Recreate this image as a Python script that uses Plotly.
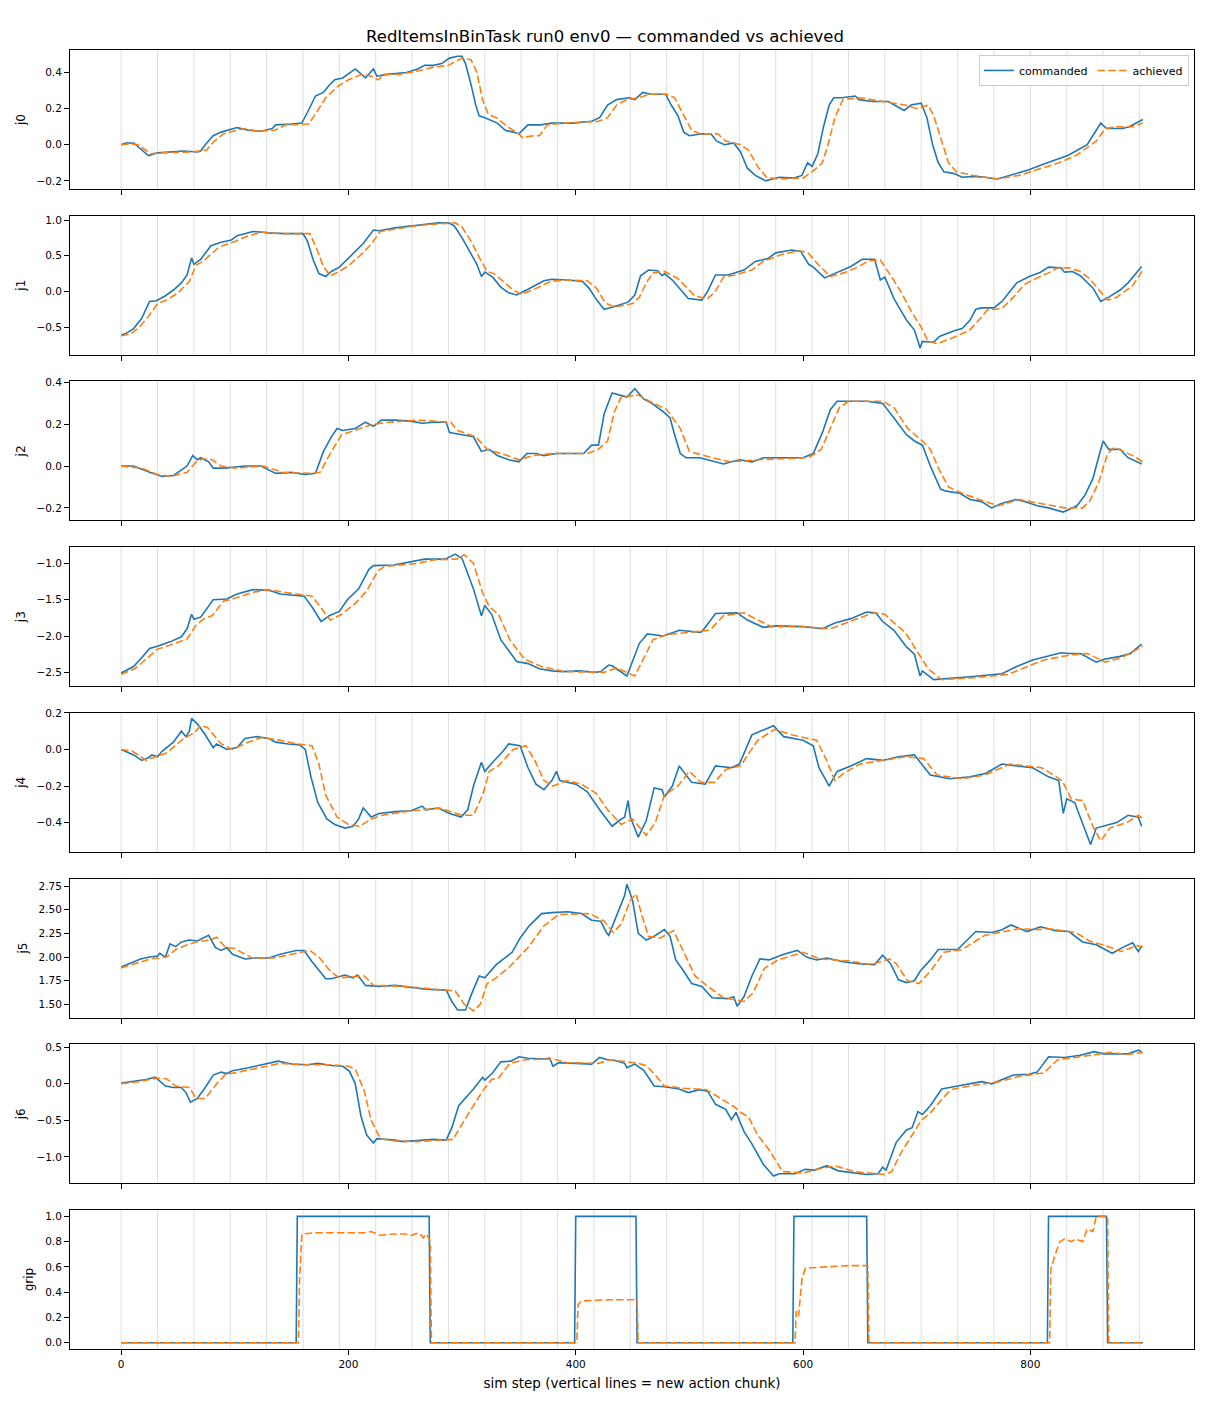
import plotly.graph_objects as go
from plotly.subplots import make_subplots

TITLE = "RedItemsInBinTask run0 env0 \u2014 commanded vs achieved"
X_LABEL = "sim step (vertical lines = new action chunk)"
JOINT_NAMES = ["j0", "j1", "j2", "j3", "j4", "j5", "j6", "grip"]
X_TICKS = [0, 200, 400, 600, 800]
CHUNK_STARTS = [0, 32, 64, 96, 128, 160, 192, 224, 256, 288, 320, 352, 384, 416, 448,
                480, 512, 544, 576, 608, 640, 672, 704, 736, 768, 800, 832, 864, 896]

# (sim step, value) pairs
j0_cmd = [(0,0.0),(4,0.01),(11,0.01),(18,-0.03),(24,-0.06),(32,-0.045),(43,-0.04),(55,-0.035),(67,-0.04),(70,-0.035),(74,0.0),(81,0.05),(88,0.07),(102,0.095),(112,0.08),(123,0.075),(133,0.09),(136,0.11),(150,0.115),(159,0.12),(164,0.18),(171,0.27),(178,0.29),(183,0.33),(188,0.36),(195,0.37),(206,0.42),(211,0.39),(215,0.37),(222,0.42),(225,0.38),(234,0.39),(251,0.40),(261,0.42),(267,0.44),(275,0.44),(282,0.45),(289,0.48),(296,0.49),(300,0.49),(303,0.45),(308,0.33),(312,0.22),(315,0.16),(320,0.15),(331,0.12),(338,0.08),(345,0.07),(350,0.06),(353,0.08),(358,0.11),(369,0.11),(379,0.12),(397,0.12),(414,0.13),(421,0.15),(428,0.22),(436,0.25),(447,0.26),(452,0.25),(459,0.29),(466,0.28),(472,0.28),(479,0.28),(484,0.22),(490,0.16),(495,0.07),(500,0.05),(510,0.06),(519,0.06),(524,0.02),(531,0.0),(539,0.01),(545,-0.04),(551,-0.13),(558,-0.17),(567,-0.2),(579,-0.18),(592,-0.185),(599,-0.17),(604,-0.1),(608,-0.12),(613,-0.05),(618,0.1),(623,0.22),(627,0.26),(634,0.26),(646,0.27),(649,0.25),(661,0.24),(675,0.24),(689,0.19),(695,0.22),(704,0.23),(709,0.15),(714,0.0),(719,-0.1),(724,-0.15),(733,-0.16),(740,-0.18),(750,-0.175),(760,-0.18),(771,-0.19),(781,-0.17),(798,-0.14),(815,-0.1),(833,-0.06),(850,0.0),(862,0.12),(867,0.09),(881,0.09),(887,0.10),(899,0.14)]
j0_ach = [(0,0.0),(8,0.005),(15,0.0),(26,-0.05),(35,-0.045),(50,-0.04),(62,-0.04),(75,-0.03),(82,0.02),(90,0.06),(108,0.09),(120,0.075),(135,0.08),(145,0.11),(165,0.115),(172,0.18),(180,0.26),(190,0.32),(200,0.36),(212,0.39),(220,0.38),(226,0.36),(232,0.39),(245,0.39),(262,0.41),(275,0.43),(288,0.44),(300,0.48),(308,0.47),(313,0.4),(318,0.25),(323,0.17),(330,0.15),(340,0.1),(350,0.06),(353,0.04),(363,0.05),(368,0.05),(375,0.11),(390,0.12),(420,0.13),(428,0.15),(436,0.22),(445,0.25),(455,0.26),(465,0.28),(480,0.28),(487,0.26),(494,0.18),(502,0.08),(510,0.06),(525,0.06),(532,0.02),(545,0.0),(552,-0.03),(560,-0.12),(568,-0.18),(578,-0.19),(600,-0.185),(610,-0.14),(617,-0.1),(622,0.0),(628,0.15),(635,0.25),(650,0.26),(670,0.24),(690,0.22),(700,0.2),(710,0.22),(715,0.16),(722,0.02),(728,-0.1),(735,-0.15),(750,-0.17),(770,-0.19),(790,-0.17),(805,-0.14),(825,-0.1),(840,-0.06),(858,0.02),(866,0.09),(875,0.1),(890,0.1),(899,0.12)]

j1_cmd = [(0,-0.61),(4,-0.59),(11,-0.52),(18,-0.38),(25,-0.14),(31,-0.13),(39,-0.06),(46,0.02),(53,0.12),(58,0.23),(62,0.47),(64,0.38),(70,0.45),(79,0.64),(88,0.69),(97,0.72),(102,0.78),(116,0.84),(130,0.82),(143,0.81),(160,0.81),(164,0.7),(169,0.44),(174,0.25),(180,0.21),(185,0.28),(192,0.34),(199,0.45),(206,0.56),(213,0.67),(222,0.86),(227,0.85),(241,0.89),(255,0.92),(268,0.94),(279,0.96),(288,0.96),(293,0.92),(300,0.75),(307,0.55),(313,0.38),(317,0.21),(320,0.27),(327,0.2),(334,0.06),(341,-0.02),(348,-0.05),(358,0.03),(372,0.15),(379,0.17),(393,0.16),(406,0.14),(412,0.04),(418,-0.11),(425,-0.25),(432,-0.22),(446,-0.15),(452,-0.05),(457,0.22),(464,0.3),(472,0.29),(476,0.22),(478,0.25),(485,0.16),(499,-0.1),(511,-0.12),(516,0.0),(523,0.23),(534,0.23),(548,0.3),(558,0.42),(569,0.46),(576,0.54),(590,0.58),(598,0.56),(605,0.38),(609,0.34),(619,0.19),(631,0.27),(642,0.35),(652,0.45),(663,0.45),(668,0.16),(672,0.2),(680,-0.1),(691,-0.4),(698,-0.54),(703,-0.79),(705,-0.7),(715,-0.71),(720,-0.63),(726,-0.59),(733,-0.55),(740,-0.52),(747,-0.4),(752,-0.25),(757,-0.23),(768,-0.23),(775,-0.14),(782,0.0),(788,0.12),(799,0.21),(809,0.27),(816,0.34),(827,0.33),(830,0.27),(837,0.28),(844,0.22),(855,0.05),(862,-0.14),(869,-0.08),(879,0.02),(886,0.12),(898,0.35)]
j1_ach = [(0,-0.62),(8,-0.6),(16,-0.5),(24,-0.35),(32,-0.17),(40,-0.12),(50,-0.02),(60,0.14),(66,0.37),(72,0.42),(86,0.62),(100,0.7),(112,0.78),(124,0.83),(140,0.81),(166,0.81),(172,0.6),(178,0.35),(184,0.22),(192,0.28),(200,0.36),(210,0.5),(220,0.66),(228,0.84),(240,0.87),(260,0.92),(282,0.95),(294,0.96),(300,0.9),(308,0.7),(316,0.45),(322,0.28),(328,0.25),(336,0.14),(345,0.02),(352,-0.04),(362,0.02),(378,0.14),(390,0.16),(410,0.15),(418,0.05),(426,-0.16),(434,-0.22),(450,-0.17),(456,-0.08),(462,0.12),(468,0.26),(478,0.28),(490,0.18),(504,-0.05),(515,-0.11),(522,-0.02),(530,0.2),(540,0.23),(555,0.3),(565,0.42),(582,0.52),(596,0.57),(604,0.55),(612,0.4),(624,0.21),(636,0.26),(648,0.34),(658,0.43),(668,0.44),(676,0.25),(686,0.0),(696,-0.3),(704,-0.5),(710,-0.7),(718,-0.73),(730,-0.66),(746,-0.55),(756,-0.38),(762,-0.26),(775,-0.24),(785,-0.08),(795,0.1),(806,0.19),(816,0.26),(824,0.33),(834,0.33),(844,0.28),(852,0.18),(862,0.0),(868,-0.12),(876,-0.08),(890,0.08),(899,0.3)]

j2_cmd = [(0,0.0),(11,0.0),(25,-0.03),(36,-0.05),(46,-0.045),(53,-0.02),(58,0.0),(63,0.05),(67,0.03),(70,0.04),(77,0.02),(81,-0.01),(91,-0.01),(109,0.0),(123,0.0),(136,-0.035),(150,-0.03),(162,-0.04),(171,-0.035),(178,0.07),(185,0.14),(190,0.18),(195,0.17),(206,0.18),(215,0.21),(222,0.19),(229,0.22),(241,0.22),(255,0.215),(265,0.205),(275,0.21),(286,0.21),(289,0.16),(300,0.15),(310,0.14),(317,0.07),(324,0.08),(331,0.05),(341,0.03),(350,0.02),(357,0.06),(365,0.06),(372,0.05),(383,0.06),(396,0.06),(407,0.06),(414,0.1),(420,0.1),(425,0.25),(432,0.35),(445,0.33),(452,0.37),(460,0.32),(467,0.3),(477,0.26),(483,0.23),(487,0.15),(492,0.06),(497,0.04),(509,0.04),(516,0.03),(530,0.01),(544,0.03),(555,0.02),(565,0.04),(579,0.04),(600,0.04),(609,0.06),(617,0.16),(624,0.27),(630,0.31),(656,0.31),(670,0.3),(680,0.23),(691,0.15),(698,0.12),(705,0.1),(712,0.0),(721,-0.11),(726,-0.12),(738,-0.13),(747,-0.16),(757,-0.17),(766,-0.2),(774,-0.18),(787,-0.16),(795,-0.17),(806,-0.19),(816,-0.2),(829,-0.22),(841,-0.19),(848,-0.14),(855,-0.06),(858,0.0),(864,0.12),(869,0.08),(879,0.08),(886,0.04),(898,0.01)]
j2_ach = [(0,0.0),(18,-0.01),(32,-0.04),(44,-0.05),(58,-0.03),(66,0.02),(72,0.035),(80,0.03),(88,0.0),(100,-0.01),(125,0.0),(142,-0.03),(168,-0.035),(175,-0.03),(185,0.07),(194,0.15),(205,0.17),(222,0.2),(236,0.21),(260,0.22),(290,0.21),(296,0.17),(312,0.14),(322,0.08),(340,0.05),(350,0.03),(362,0.05),(380,0.06),(410,0.06),(420,0.08),(428,0.12),(434,0.26),(440,0.33),(455,0.34),(465,0.31),(480,0.27),(492,0.18),(500,0.07),(520,0.04),(536,0.02),(560,0.03),(605,0.04),(616,0.08),(624,0.18),(632,0.28),(640,0.31),(670,0.31),(680,0.28),(692,0.18),(705,0.12),(712,0.08),(720,-0.02),(728,-0.1),(740,-0.13),(760,-0.17),(772,-0.19),(790,-0.16),(810,-0.18),(830,-0.2),(846,-0.2),(852,-0.17),(860,-0.08),(868,0.06),(874,0.09),(890,0.05),(899,0.02)]

j3_cmd = [(0,-2.51),(11,-2.42),(18,-2.3),(25,-2.17),(32,-2.14),(43,-2.08),(53,-2.01),(58,-1.9),(62,-1.7),(64,-1.77),(70,-1.74),(81,-1.5),(93,-1.49),(102,-1.42),(116,-1.36),(130,-1.37),(140,-1.42),(161,-1.45),(168,-1.6),(176,-1.8),(183,-1.72),(192,-1.66),(199,-1.5),(209,-1.35),(218,-1.08),(222,-1.03),(240,-1.02),(253,-0.98),(267,-0.94),(285,-0.94),(294,-0.87),(300,-0.93),(310,-1.35),(317,-1.72),(320,-1.58),(326,-1.7),(334,-2.05),(348,-2.35),(358,-2.38),(368,-2.45),(379,-2.48),(389,-2.49),(403,-2.48),(417,-2.5),(422,-2.49),(429,-2.4),(432,-2.41),(445,-2.55),(456,-2.1),(463,-1.97),(477,-2.0),(491,-1.92),(510,-1.95),(513,-1.9),(523,-1.69),(542,-1.68),(551,-1.78),(565,-1.88),(576,-1.86),(600,-1.87),(617,-1.9),(628,-1.82),(642,-1.76),(656,-1.67),(664,-1.68),(670,-1.8),(680,-1.92),(691,-2.15),(698,-2.25),(703,-2.55),(705,-2.48),(715,-2.6),(733,-2.58),(747,-2.56),(775,-2.52),(788,-2.42),(802,-2.33),(816,-2.27),(827,-2.23),(834,-2.24),(844,-2.24),(858,-2.36),(865,-2.32),(879,-2.28),(888,-2.24),(898,-2.11)]
j3_ach = [(0,-2.53),(12,-2.45),(22,-2.32),(32,-2.18),(42,-2.13),(58,-2.04),(66,-1.85),(72,-1.77),(80,-1.72),(90,-1.52),(100,-1.48),(115,-1.4),(130,-1.36),(145,-1.4),(168,-1.45),(176,-1.62),(184,-1.78),(194,-1.7),(206,-1.55),(216,-1.38),(226,-1.1),(232,-1.04),(260,-1.0),(275,-0.95),(295,-0.94),(302,-0.88),(310,-1.0),(318,-1.4),(324,-1.6),(332,-1.7),(342,-2.05),(355,-2.32),(370,-2.42),(390,-2.49),(425,-2.5),(436,-2.44),(452,-2.55),(460,-2.3),(468,-2.05),(480,-1.98),(498,-1.95),(518,-1.92),(530,-1.72),(548,-1.68),(558,-1.76),(572,-1.87),(600,-1.87),(624,-1.9),(636,-1.83),(662,-1.68),(672,-1.7),(680,-1.82),(690,-1.95),(700,-2.2),(710,-2.45),(722,-2.6),(745,-2.58),(780,-2.53),(795,-2.44),(812,-2.33),(835,-2.26),(850,-2.24),(866,-2.36),(880,-2.3),(899,-2.14)]

j4_cmd = [(0,0.0),(4,-0.01),(11,-0.03),(18,-0.06),(24,-0.045),(27,-0.03),(32,-0.04),(36,-0.01),(46,0.04),(53,0.1),(57,0.07),(60,0.1),(62,0.17),(67,0.14),(74,0.08),(81,0.01),(84,0.03),(93,0.0),(102,0.01),(109,0.06),(119,0.07),(130,0.06),(136,0.04),(147,0.03),(157,0.025),(162,0.0),(167,-0.15),(173,-0.29),(181,-0.38),(188,-0.41),(197,-0.43),(204,-0.42),(209,-0.38),(213,-0.32),(220,-0.37),(227,-0.35),(241,-0.34),(255,-0.335),(265,-0.31),(268,-0.33),(279,-0.32),(289,-0.35),(299,-0.37),(305,-0.33),(310,-0.2),(317,-0.07),(320,-0.12),(327,-0.07),(336,-0.01),(341,0.03),(351,0.02),(358,-0.1),(365,-0.19),(372,-0.22),(379,-0.17),(383,-0.12),(386,-0.17),(400,-0.19),(410,-0.23),(421,-0.33),(432,-0.42),(438,-0.39),(443,-0.37),(446,-0.28),(448,-0.37),(455,-0.48),(462,-0.39),(469,-0.21),(476,-0.22),(478,-0.26),(485,-0.2),(491,-0.09),(497,-0.14),(502,-0.18),(514,-0.19),(523,-0.09),(537,-0.1),(544,-0.08),(555,0.08),(562,0.1),(574,0.13),(583,0.07),(600,0.05),(609,0.02),(614,-0.1),(623,-0.2),(630,-0.12),(642,-0.09),(656,-0.05),(670,-0.06),(684,-0.04),(698,-0.03),(712,-0.14),(729,-0.16),(747,-0.15),(761,-0.13),(775,-0.08),(788,-0.09),(802,-0.1),(816,-0.15),(825,-0.17),(829,-0.35),(832,-0.27),(839,-0.29),(846,-0.4),(853,-0.52),(858,-0.43),(864,-0.42),(876,-0.4),(886,-0.36),(895,-0.37),(898,-0.42)]
j4_ach = [(0,0.0),(10,-0.01),(22,-0.06),(30,-0.04),(40,-0.02),(55,0.06),(64,0.09),(70,0.13),(76,0.12),(88,0.03),(98,0.0),(112,0.04),(124,0.065),(140,0.05),(155,0.03),(168,0.02),(174,-0.08),(180,-0.25),(190,-0.37),(200,-0.41),(210,-0.42),(220,-0.38),(230,-0.36),(250,-0.34),(280,-0.32),(300,-0.36),(310,-0.36),(318,-0.25),(324,-0.12),(332,-0.09),(345,0.0),(356,0.02),(364,-0.06),(372,-0.17),(380,-0.2),(392,-0.17),(405,-0.19),(418,-0.24),(428,-0.33),(440,-0.41),(450,-0.38),(462,-0.47),(470,-0.4),(478,-0.25),(490,-0.2),(500,-0.12),(510,-0.18),(522,-0.18),(532,-0.11),(545,-0.09),(560,0.05),(575,0.11),(590,0.08),(612,0.05),(620,-0.05),(628,-0.17),(636,-0.13),(650,-0.08),(670,-0.06),(690,-0.04),(706,-0.05),(718,-0.14),(740,-0.16),(760,-0.14),(782,-0.08),(810,-0.1),(828,-0.17),(836,-0.27),(846,-0.28),(855,-0.42),(862,-0.5),(870,-0.43),(885,-0.4),(895,-0.36),(899,-0.38)]

j5_cmd = [(0,1.895),(11,1.95),(17,1.98),(25,2.0),(32,2.01),(34,2.04),(39,2.0),(43,2.14),(48,2.11),(53,2.16),(60,2.18),(67,2.17),(72,2.2),(77,2.23),(83,2.1),(88,2.07),(93,2.1),(98,2.03),(109,1.98),(119,1.99),(130,1.99),(140,2.03),(154,2.07),(161,2.07),(168,1.95),(175,1.85),(180,1.77),(185,1.77),(197,1.81),(204,1.78),(208,1.81),(215,1.7),(227,1.69),(241,1.7),(255,1.68),(268,1.66),(286,1.65),(291,1.53),(296,1.44),(303,1.44),(308,1.6),(315,1.8),(320,1.78),(330,1.92),(344,2.05),(351,2.2),(359,2.33),(370,2.46),(379,2.47),(393,2.48),(405,2.46),(414,2.39),(422,2.38),(427,2.26),(429,2.23),(436,2.45),(443,2.65),(445,2.77),(450,2.6),(455,2.25),(462,2.18),(469,2.22),(478,2.29),(483,2.22),(488,1.97),(495,1.85),(502,1.72),(511,1.69),(520,1.57),(534,1.56),(539,1.58),(542,1.48),(548,1.58),(555,1.8),(562,1.98),(570,1.97),(583,2.03),(595,2.07),(603,2.0),(612,1.97),(621,1.99),(635,1.95),(649,1.93),(663,1.92),(670,2.02),(677,1.93),(684,1.76),(691,1.73),(698,1.75),(703,1.85),(712,1.97),(719,2.08),(736,2.08),(752,2.27),(766,2.26),(775,2.29),(783,2.34),(797,2.27),(809,2.32),(822,2.28),(834,2.27),(846,2.16),(858,2.13),(872,2.04),(881,2.1),(890,2.15),(895,2.06),(898,2.12)]
j5_ach = [(0,1.885),(14,1.94),(26,1.98),(40,2.0),(48,2.08),(56,2.12),(66,2.16),(78,2.18),(84,2.21),(92,2.1),(100,2.09),(115,1.99),(135,1.99),(150,2.03),(166,2.07),(174,2.0),(184,1.85),(192,1.78),(205,1.79),(214,1.8),(222,1.7),(250,1.69),(275,1.66),(294,1.64),(302,1.5),(310,1.43),(316,1.5),(322,1.72),(330,1.78),(342,1.9),(358,2.1),(372,2.33),(385,2.45),(412,2.46),(425,2.38),(433,2.26),(440,2.35),(448,2.6),(453,2.67),(458,2.45),(464,2.22),(474,2.2),(486,2.28),(496,2.02),(505,1.8),(515,1.7),(530,1.57),(548,1.53),(556,1.62),(566,1.88),(578,1.97),(600,2.05),(615,1.98),(640,1.96),(660,1.92),(676,1.98),(682,1.93),(692,1.75),(702,1.72),(712,1.85),(724,2.05),(740,2.08),(760,2.23),(790,2.3),(806,2.29),(816,2.3),(840,2.26),(852,2.17),(866,2.12),(880,2.06),(894,2.12),(899,2.1)]

j6_cmd = [(0,0.01),(11,0.03),(22,0.06),(30,0.09),(39,-0.03),(46,-0.05),(53,-0.05),(57,-0.12),(61,-0.25),(67,-0.2),(74,-0.05),(81,0.12),(88,0.16),(93,0.14),(98,0.18),(112,0.22),(126,0.27),(138,0.31),(150,0.27),(164,0.26),(173,0.28),(185,0.25),(195,0.24),(201,0.17),(206,0.0),(211,-0.44),(216,-0.7),(222,-0.81),(225,-0.75),(241,-0.77),(248,-0.79),(262,-0.77),(275,-0.76),(286,-0.77),(291,-0.6),(297,-0.3),(303,-0.2),(310,-0.07),(318,0.09),(320,0.05),(327,0.15),(334,0.3),(343,0.31),(350,0.37),(358,0.35),(372,0.34),(377,0.35),(380,0.24),(385,0.29),(396,0.28),(407,0.27),(414,0.27),(421,0.36),(428,0.33),(432,0.33),(443,0.28),(445,0.22),(452,0.27),(460,0.18),(469,-0.03),(478,-0.04),(491,-0.07),(499,-0.12),(509,-0.08),(516,-0.1),(523,-0.28),(532,-0.35),(537,-0.49),(541,-0.39),(548,-0.65),(555,-0.82),(565,-1.1),(574,-1.26),(579,-1.23),(593,-1.23),(602,-1.17),(610,-1.18),(621,-1.12),(631,-1.19),(645,-1.22),(656,-1.24),(666,-1.23),(670,-1.14),(673,-1.18),(682,-0.8),(691,-0.63),(696,-0.6),(701,-0.38),(705,-0.42),(712,-0.3),(722,-0.07),(736,-0.03),(747,0.0),(757,0.03),(766,0.0),(775,0.06),(785,0.12),(799,0.13),(806,0.16),(816,0.37),(830,0.36),(844,0.39),(856,0.44),(865,0.41),(886,0.41),(895,0.46),(898,0.44)]
j6_ach = [(0,0.0),(16,0.03),(32,0.08),(40,0.07),(48,-0.03),(60,-0.05),(66,-0.2),(74,-0.2),(84,0.0),(92,0.13),(100,0.15),(120,0.22),(140,0.28),(160,0.26),(185,0.26),(200,0.24),(206,0.2),(214,-0.1),(220,-0.5),(228,-0.75),(240,-0.78),(260,-0.79),(280,-0.77),(292,-0.76),(300,-0.55),(310,-0.3),(318,-0.1),(326,0.06),(332,0.08),(342,0.28),(356,0.33),(380,0.34),(392,0.29),(420,0.28),(430,0.33),(445,0.3),(455,0.28),(462,0.25),(470,0.12),(478,-0.03),(495,-0.06),(515,-0.08),(528,-0.2),(540,-0.32),(546,-0.4),(552,-0.45),(560,-0.7),(570,-0.9),(582,-1.2),(600,-1.22),(612,-1.17),(628,-1.12),(645,-1.2),(672,-1.24),(678,-1.2),(686,-0.95),(694,-0.75),(704,-0.5),(712,-0.4),(720,-0.25),(730,-0.08),(750,-0.02),(770,0.02),(790,0.1),(812,0.15),(824,0.33),(835,0.35),(855,0.4),(870,0.43),(885,0.4),(899,0.43)]

grip_cmd = [(0,0),(154,0),(155,1),(271,1),(272,0),(399,0),(400,1),(453,1),(454,0),(591,0),(592,1),(656,1),(657,0),(815,0),(816,1),(867,1),(868,0),(899,0)]
grip_ach = [(0,0),(156,0),(157,0.5),(159,0.86),(170,0.87),(200,0.87),(215,0.87),(220,0.88),(228,0.85),(240,0.86),(250,0.86),(255,0.85),(262,0.87),(266,0.83),(268,0.86),(270,0.84),(272,0.8),(273,0.0),(401,0.0),(402,0.3),(405,0.33),(430,0.34),(454,0.34),(455,0.0),(593,0.0),(594,0.25),(596,0.21),(599,0.5),(602,0.59),(620,0.6),(640,0.61),(657,0.61),(658,0.0),(817,0.0),(818,0.58),(822,0.7),(826,0.8),(830,0.82),(836,0.8),(840,0.82),(846,0.8),(850,0.9),(855,0.88),(858,1.0),(868,1.0),(869,0.0),(899,0.0)]

COMMANDED = [j0_cmd, j1_cmd, j2_cmd, j3_cmd, j4_cmd, j5_cmd, j6_cmd, grip_cmd]
ACHIEVED = [j0_ach, j1_ach, j2_ach, j3_ach, j4_ach, j5_ach, j6_ach, grip_ach]

# axis settings per panel: (range, dtick, tickformat)
Y_AXES = [
    ([-0.245, 0.525], 0.2, ".1f"),
    ([-0.885, 1.06], 0.5, ".1f"),
    ([-0.26, 0.405], 0.2, ".1f"),
    ([-2.69, -0.775], 0.5, ".1f"),
    ([-0.56, 0.2], 0.2, ".1f"),
    ([1.36, 2.83], 0.25, ".2f"),
    ([-1.36, 0.54], 0.5, ".1f"),
    ([-0.05, 1.05], 0.2, ".1f"),
]

BLUE = "#1f77b4"
ORANGE = "#ff7f0e"
FONT = "DejaVu Sans"

# page body has an 8px margin; the figure is sized/offset to compensate
W, H = 1202, 1400

n = len(JOINT_NAMES)
fig = make_subplots(rows=n, cols=1, shared_xaxes=True, vertical_spacing=0.0206)

for i in range(n):
    cx = [p[0] for p in COMMANDED[i]]
    cy = [p[1] for p in COMMANDED[i]]
    ax_ = [p[0] for p in ACHIEVED[i]]
    ay_ = [p[1] for p in ACHIEVED[i]]
    fig.add_trace(go.Scatter(x=cx, y=cy, mode="lines", name="commanded",
                             line=dict(color=BLUE, width=1.6),
                             showlegend=(i == 0), legendgroup="c"), row=i + 1, col=1)
    fig.add_trace(go.Scatter(x=ax_, y=ay_, mode="lines", name="achieved",
                             line=dict(color=ORANGE, width=1.6, dash="7.5px,3.2px"),
                             showlegend=(i == 0), legendgroup="a"), row=i + 1, col=1)

shapes = []
for i in range(n):
    xr = "x" if i == 0 else f"x{i+1}"
    yr = "y domain" if i == 0 else f"y{i+1} domain"
    for c in CHUNK_STARTS:
        shapes.append(dict(type="line", xref=xr, yref=yr, x0=c, x1=c, y0=0, y1=1,
                           line=dict(color="rgba(160,160,160,0.35)", width=1), layer="below"))
fig.update_layout(shapes=shapes)

for i in range(n):
    rng, dt, fmt = Y_AXES[i]
    fig.update_yaxes(row=i + 1, col=1, range=rng, dtick=dt, tick0=0, tickformat=fmt,
                     showline=True, mirror=True, linecolor="black", linewidth=1,
                     ticks="outside", ticklen=5, tickcolor="black", showgrid=False,
                     zeroline=False, tickfont=dict(size=10.5, color="black"),
                     title=dict(text=JOINT_NAMES[i], font=dict(size=12, color="black"), standoff=8))
    fig.update_xaxes(row=i + 1, col=1, range=[-45, 944], tickvals=X_TICKS,
                     showline=True, mirror=True, linecolor="black", linewidth=1,
                     ticks="outside", ticklen=5, tickcolor="black", showgrid=False,
                     zeroline=False, tickfont=dict(size=10.5, color="black"))
fig.update_xaxes(row=n, col=1, showticklabels=True,
                 title=dict(text=X_LABEL, font=dict(size=13.5, color="black"), standoff=9))

fig.update_layout(
    width=W, height=H,
    margin=dict(l=62, r=16, t=42, b=59, autoexpand=False),
    paper_bgcolor="white", plot_bgcolor="white",
    font=dict(family=FONT, color="black"),
    title=dict(text=TITLE, x=(605 - 8) / W, xanchor="center", xref="container",
               y=1 - 28 / H, yanchor="middle", yref="container",
               font=dict(size=16.5, color="black")),
    legend=dict(orientation="h", x=0.9955, xanchor="right", y=0.9962, yanchor="top",
                bordercolor="#cccccc", borderwidth=1, bgcolor="rgba(255,255,255,0.85)",
                font=dict(size=11, color="black"), itemwidth=30, tracegroupgap=0),
)

fig.write_html("out.html")
